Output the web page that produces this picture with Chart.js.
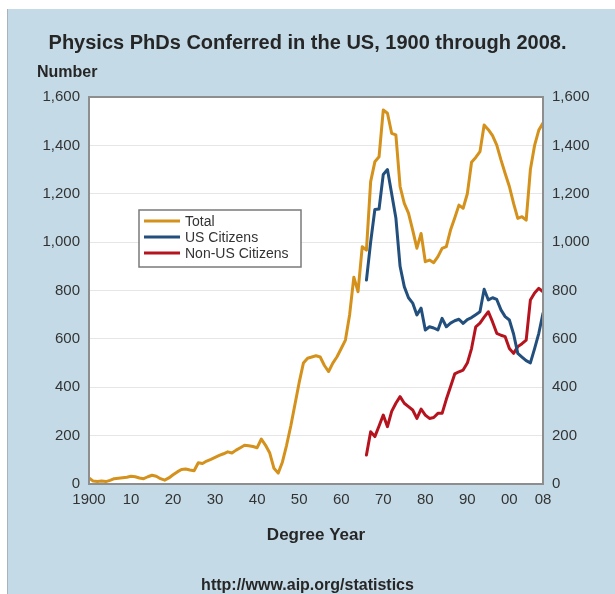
<!doctype html>
<html>
<head>
<meta charset="utf-8" />
<title>Physics PhDs Conferred in the US</title>
<script src="https://cdn.jsdelivr.net/npm/chart.js"></script>
<style>
  html, body { margin: 0; padding: 0; background: #fff; }
  #panel { position: absolute; left: 7px; top: 9px; width: 607px; height: 585px; background: #c4dbe7; border-left: 1px solid #a9b4ba; }
  #chart { position: absolute; left: 0; top: 0; }
</style>
</head>
<body>
<div id="panel"></div>
<canvas id="chart" width="615" height="594"></canvas>
<script>
// degree years 1900 .. 2008
const firstYear = 1900;
const lastYear = 2008;
const years = [];
for (let y = firstYear; y <= lastYear; y++) years.push(y);

// total PhDs, one value per year from 1900
const total = [
  25, 12, 10, 12, 10, 15, 22, 24, 26, 28,
  32, 30, 25, 22, 30, 36, 32, 22, 16, 25,
  38, 50, 60, 62, 58, 55, 88, 85, 95, 102,
  110, 118, 125, 133, 128, 140, 150, 160, 158, 155,
  150, 186, 160, 128, 65, 45, 90, 160, 240, 330,
  420, 500, 520, 525, 530, 525, 490, 465, 500, 526,
  560, 595, 700, 855, 795, 981, 967, 1250, 1332, 1353,
  1546, 1533, 1450, 1443, 1230, 1160, 1120, 1050, 975, 1036,
  919, 926, 915, 940, 974, 981, 1050, 1100, 1153, 1140,
  1200, 1330, 1350, 1374, 1484, 1465, 1440, 1401, 1340, 1284,
  1230, 1160, 1098, 1105, 1091, 1300, 1400, 1463, 1492
];

// split by citizenship, available from 1966
const splitStart = 1966;
const usCitizens = [
  843, 1000, 1135, 1137, 1280, 1300, 1200, 1100, 900, 816,
  770, 748, 699, 727, 637, 650, 645, 637, 685, 650,
  665, 675, 681, 664, 680, 688, 700, 712, 805, 761,
  770, 763, 720, 692, 678, 620, 540, 525, 510, 501,
  560, 623, 706
];
const nonUsCitizens = [
  120, 216, 196, 240, 285, 237, 300, 334, 361, 334,
  320, 306, 271, 310, 285, 271, 275, 292, 292, 350,
  402, 455, 464, 471, 500, 560, 650, 665, 690, 712,
  670, 623, 615, 609, 560, 540, 568, 580, 595, 761,
  790, 809, 795
];

const xTicks = [1900, 1910, 1920, 1930, 1940, 1950, 1960, 1970, 1980, 1990, 2000, 2008];
const seriesNames = ['Total', 'US Citizens', 'Non-US Citizens'];
const seriesColors = ['#d4911c', '#234f7d', '#b5141f'];

const toPoints = (start, vals) => vals.map((v, i) => ({ x: start + i, y: v }));

const FONT = '"Liberation Sans", Arial, Helvetica, sans-serif';
const TEXT = '#262626';

const frame = {
  id: 'frame',
  beforeDraw(chart) {
    const { ctx, chartArea: a } = chart;
    ctx.save();
    ctx.fillStyle = '#fff';
    ctx.fillRect(a.left, a.top, a.right - a.left, a.bottom - a.top);
    ctx.restore();
  },
  afterDraw(chart) {
    const { ctx, chartArea: a } = chart;
    ctx.save();
    ctx.strokeStyle = '#8e8e8e';
    ctx.lineWidth = 2;
    ctx.strokeRect(a.left, a.top, a.right - a.left, a.bottom - a.top);

    // "Number" label above left axis
    ctx.fillStyle = TEXT;
    ctx.font = 'bold 16px ' + FONT;
    ctx.textBaseline = 'middle';
    ctx.textAlign = 'left';
    ctx.fillText('Number', 37, 73);

    // legend box inside the plot
    const bx = 139, by = 210, bw = 162, bh = 57;
    ctx.fillStyle = '#fff';
    ctx.fillRect(bx, by, bw, bh);
    ctx.strokeStyle = '#7a7a7a';
    ctx.lineWidth = 1.5;
    ctx.strokeRect(bx, by, bw, bh);
    ctx.font = '14px ' + FONT;
    chart.data.datasets.forEach((ds, i) => {
      const ly = by + 11 + i * 16;
      ctx.strokeStyle = ds.borderColor;
      ctx.lineWidth = 3;
      ctx.beginPath();
      ctx.moveTo(bx + 5, ly);
      ctx.lineTo(bx + 41, ly);
      ctx.stroke();
      ctx.fillStyle = '#333';
      ctx.fillText(ds.label, bx + 46, ly + 1);
    });
    ctx.restore();
  }
};

const yTicks = {
  color: '#333',
  font: { family: FONT, size: 15 },
  padding: 9,
  stepSize: 200
};

new Chart(document.getElementById('chart'), {
  type: 'line',
  data: {
    datasets: [
      { label: seriesNames[0], data: toPoints(firstYear, total), borderColor: seriesColors[0] },
      { label: seriesNames[1], data: toPoints(splitStart, usCitizens), borderColor: seriesColors[1] },
      { label: seriesNames[2], data: toPoints(splitStart, nonUsCitizens), borderColor: seriesColors[2] }
    ]
  },
  options: {
    responsive: false,
    animation: false,
    devicePixelRatio: 1,
    elements: {
      line: { borderWidth: 3, tension: 0, borderJoinStyle: 'round', borderCapStyle: 'round' },
      point: { radius: 0 }
    },
    layout: { padding: 0 },
    plugins: {
      legend: { display: false },
      tooltip: { enabled: false },
      title: {
        display: true,
        text: 'Physics PhDs Conferred in the US, 1900 through 2008.',
        color: TEXT,
        font: { family: FONT, size: 20, weight: 'bold', lineHeight: 1.2 },
        padding: { top: 31, bottom: 42 }
      },
      subtitle: {
        display: true,
        position: 'bottom',
        text: 'http://www.aip.org/statistics',
        color: TEXT,
        font: { family: FONT, size: 16, weight: 'bold', lineHeight: 1 },
        padding: { top: 32, bottom: 0 }
      }
    },
    scales: {
      x: {
        type: 'linear',
        min: firstYear,
        max: lastYear,
        afterBuildTicks(scale) { scale.ticks = xTicks.map(v => ({ value: v })); },
        afterFit(scale) { scale.height = 62; },
        grid: { display: false, drawTicks: false },
        border: { display: false },
        ticks: {
          color: '#333',
          font: { family: FONT, size: 15 },
          padding: 7,
          maxRotation: 0,
          autoSkip: false,
          callback: v => v === 1900 ? '1900' : String(v % 100).padStart(2, '0')
        },
        title: {
          display: true,
          text: 'Degree Year',
          color: TEXT,
          font: { family: FONT, size: 17, weight: 'bold', lineHeight: 1.2 },
          padding: { top: 0, bottom: 0 }
        }
      },
      y: {
        position: 'left',
        min: 0,
        max: 1600,
        afterFit(scale) { scale.width = 89; },
        grid: { color: '#e6e6e6', lineWidth: 1, drawTicks: false },
        border: { display: false },
        ticks: yTicks
      },
      y2: {
        position: 'right',
        min: 0,
        max: 1600,
        afterFit(scale) { scale.width = 72; },
        grid: { display: false, drawTicks: false },
        border: { display: false },
        ticks: yTicks
      }
    }
  },
  plugins: [frame]
});
</script>
</body>
</html>
